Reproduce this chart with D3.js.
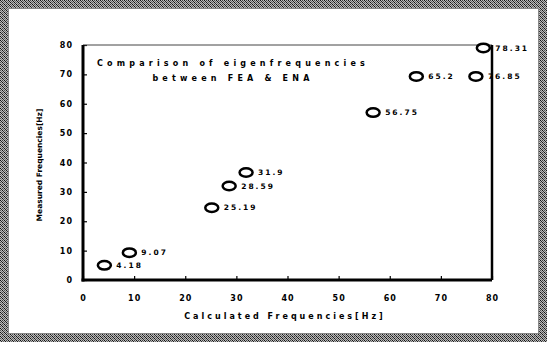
<!DOCTYPE html>
<html>
<head>
<script src="https://d3js.org/d3.v7.min.js"></script>
<style>
body { margin: 0; background: #fff; }
text { font-family: "DejaVu Sans", sans-serif; font-weight: bold; fill: #000; }
</style>
</head>
<body>
<svg width="547" height="342"></svg>
<script>

// calculated (FEA) vs measured (EMA) eigenfrequencies
const calculated = [4.18, 9.07, 25.19, 28.59, 31.9, 56.75, 65.2, 76.85, 78.31];
const measured   = [5.0, 9.3, 24.6, 32.0, 36.6, 57.0, 69.3, 69.3, 79.0];
const pointLabels = ["4.18", "9.07", "25.19", "28.59", "31.9", "56.75", "65.2", "76.85", "78.31"];
const ticks = [0, 10, 20, 30, 40, 50, 60, 70, 80];

var svg = d3.select("svg"),
    width = +svg.attr("width"),
    height = +svg.attr("height");

// dithered frame pattern
var pat = svg.append("defs").append("pattern")
    .attr("id", "dither")
    .attr("width", 4).attr("height", 4)
    .attr("patternUnits", "userSpaceOnUse");
pat.append("rect").attr("width", 4).attr("height", 4).attr("fill", "#bbb");
[[0,0,"#111"],[2,0,"#444"],[1,1,"#222"],[3,1,"#666"],[0,2,"#555"],[2,2,"#111"],[1,3,"#777"],[3,3,"#333"]]
  .forEach(function(p) {
    pat.append("rect").attr("x", p[0]).attr("y", p[1]).attr("width", 1).attr("height", 1).attr("fill", p[2]);
  });

var frame = svg.append("g");
frame.append("rect").attr("x", 4).attr("y", 4).attr("width", width - 8).attr("height", height - 8)
    .attr("fill", "none").attr("stroke", "url(#dither)").attr("stroke-width", 8);
frame.append("rect").attr("x", 8.5).attr("y", 8.5).attr("width", width - 17).attr("height", height - 17)
    .attr("fill", "none").attr("stroke", "#888").attr("stroke-width", 1);

var x = d3.scaleLinear().domain([0, 80]).range([83, 492]);
var y = d3.scaleLinear().domain([0, 80]).range([280, 45]);

// axes with inward ticks
var yAxis = svg.append("g")
    .attr("transform", "translate(" + x(0) + ",0)")
    .call(d3.axisLeft(y).tickValues(ticks).tickSizeInner(-4).tickSizeOuter(0).tickPadding(10));
var xAxis = svg.append("g")
    .attr("transform", "translate(0," + y(0) + ")")
    .call(d3.axisBottom(x).tickValues(ticks).tickSizeInner(-4).tickSizeOuter(0).tickPadding(15));

[xAxis, yAxis].forEach(function(a) {
  a.select(".domain").remove();
  a.selectAll(".tick line").attr("stroke", "#000").attr("stroke-width", 1.2);
  a.selectAll(".tick text")
    .style("font-family", "'DejaVu Sans', sans-serif")
    .style("font-weight", "bold")
    .style("font-size", "8px")
    .style("letter-spacing", "1px");
});

// plot box
svg.append("line").attr("x1", x(0)).attr("x2", x(80)).attr("y1", y(80)).attr("y2", y(80))
    .attr("stroke", "#444").attr("stroke-width", 1);
svg.append("line").attr("x1", x(80)).attr("x2", x(80)).attr("y1", y(80)).attr("y2", y(0))
    .attr("stroke", "#000").attr("stroke-width", 2.5);
svg.append("line").attr("x1", x(0)).attr("x2", x(0)).attr("y1", y(80)).attr("y2", y(0) + 1.5)
    .attr("stroke", "#000").attr("stroke-width", 3);
svg.append("line").attr("x1", x(0) - 1.5).attr("x2", x(80)).attr("y1", y(0)).attr("y2", y(0))
    .attr("stroke", "#000").attr("stroke-width", 3);

// points
var pts = svg.append("g").selectAll("g")
    .data(calculated)
    .enter().append("g")
      .attr("transform", function(d, i) { return "translate(" + x(d) + "," + y(measured[i]) + ")"; });

pts.append("text")
    .attr("x", 12)
    .attr("dy", "0.35em")
    .style("font-size", "7.5px")
    .style("letter-spacing", "2px")
    .text(function(d, i) { return pointLabels[i]; });

pts.append("ellipse")
    .attr("rx", 6.5).attr("ry", 4.3)
    .attr("fill", "#fff")
    .attr("stroke", "#000").attr("stroke-width", 2.5);

// titles
svg.append("text").attr("x", 233).attr("y", 66).attr("text-anchor", "middle")
    .style("font-size", "8px").style("letter-spacing", "4.2px")
    .text("Comparison of eigenfrequencies");
svg.append("text").attr("x", 233).attr("y", 81).attr("text-anchor", "middle")
    .style("font-size", "8px").style("letter-spacing", "4.2px")
    .text("between FEA & ENA");

svg.append("text").attr("x", 285).attr("y", 319).attr("text-anchor", "middle")
    .style("font-size", "8px").style("letter-spacing", "3px")
    .text("Calculated Frequencies[Hz]");

svg.append("text")
    .attr("transform", "translate(42,165) rotate(-90)")
    .attr("text-anchor", "middle")
    .style("font-size", "7.5px")
    .text("Measured Frequencies[Hz]");

</script>
</body>
</html>
